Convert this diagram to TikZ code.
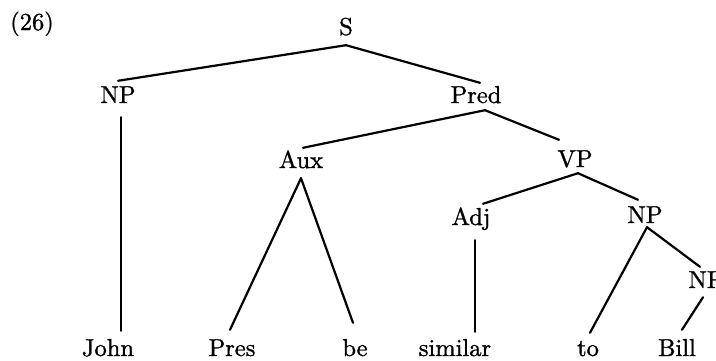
\documentclass[tikz,border=0pt]{standalone}
\usepackage{fontspec}
\setmainfont{lmroman10-regular.otf}[FakeBold=1.2]
\usetikzlibrary{calc}
\begin{document}
\begin{tikzpicture}[x=1pt,y=-1pt,
  lbl/.style={font=\fontsize{24.5}{28}\selectfont, text height=17pt, text depth=5pt, inner sep=5pt, anchor=base},
  edge/.style={line width=2.2pt, line cap=round}]
\useasboundingbox (0,0) rectangle (716,360);
\node[lbl] (num) at (32,30) {(26)};
\node[lbl] (s) at (346,35) {S};
\node[lbl] (np1) at (118,103) {NP};
\node[lbl] (pred) at (476,103) {Pred};
\node[lbl] (aux) at (301,168) {Aux};
\node[lbl] (vp) at (575,167) {VP};
\node[lbl] (adj) at (471,225) {Adj};
\node[lbl] (np2) at (645,223) {NP};
\node[lbl] (np3) at (706,288) {NP};
\node[lbl] (john) at (108,356) {John};
\node[lbl] (pres) at (232,356) {Pres};
\node[lbl] (be) at (355,356) {be};
\node[lbl] (similar) at (455,356) {similar};
\node[lbl] (to) at (588,356) {to};
\node[lbl] (bill) at (677,356) {Bill};
\draw[edge] (s.south) -- (np1.north);
\draw[edge] (s.south) -- ($(pred.north)+(4,2)$);
\draw[edge] ($(np1.south)+(3,4)$) -- ($(john.north)+(13,-3)$);
\draw[edge] ($(pred.south)+(9,-3)$) -- ($(aux.north)+(2,2)$);
\draw[edge] ($(pred.south)+(9,-3)$) -- ($(vp.north)+(-16,-5)$);
\draw[edge] (aux.south) -- ($(pres.north)+(-2,-4)$);
\draw[edge] (aux.south) -- ($(be.north)+(-2,-11)$);
\draw[edge] ($(vp.south)+(3,-4)$) -- ($(adj.north)+(12,1)$);
\draw[edge] ($(vp.south)+(3,-4)$) -- ($(np2.north)+(-7,-1)$);
\draw[edge] ($(adj.south)+(4,5)$) -- ($(similar.north)+(20,-2)$);
\draw[edge] ($(np2.south)+(2,-6)$) -- ($(to.north)+(2,-1)$);
\draw[edge] ($(np2.south)+(2,-6)$) -- ($(np3.north)+(-6,1)$);
\draw[edge] ($(np3.south)+(-3,-1)$) -- ($(bill.north)+(5,-4)$);
\end{tikzpicture}
\end{document}
